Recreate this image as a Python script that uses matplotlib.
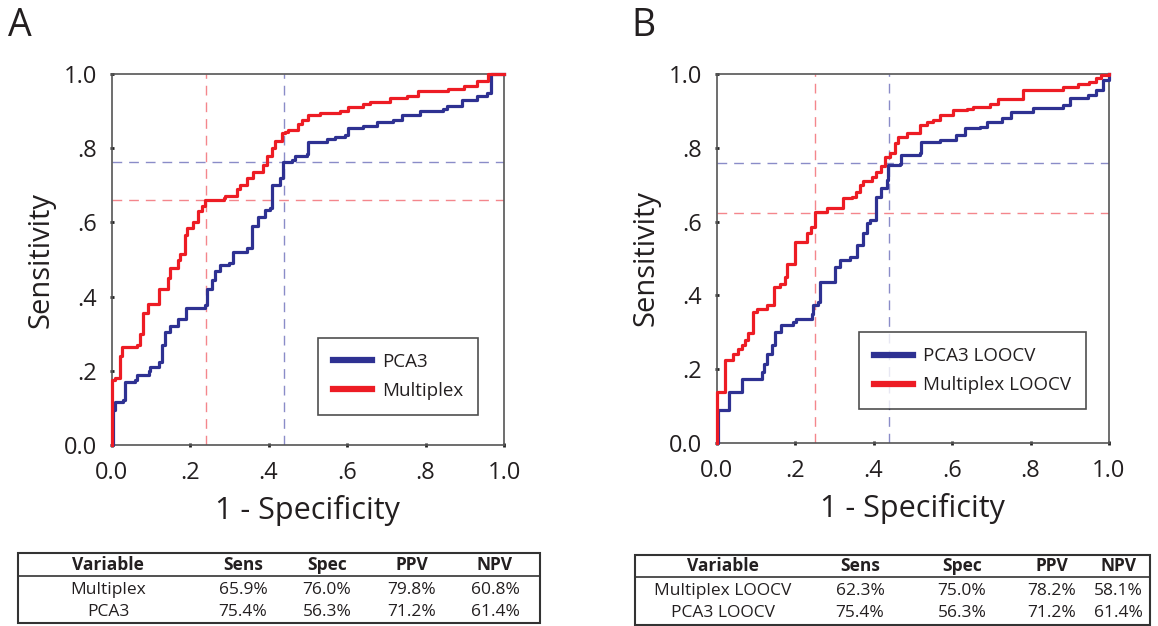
import matplotlib
matplotlib.use("Agg")
import matplotlib.pyplot as plt
from matplotlib.patches import Rectangle
from matplotlib.lines import Line2D

plt.rcParams['font.family'] = ['Open Sans', 'DejaVu Sans']

# ---------------- data ----------------
a_multi_fpr = [0, 0, 0.008, 0.02, 0.025, 0.064, 0.072, 0.08, 0.093, 0.12,
               0.144, 0.148, 0.17, 0.174, 0.187, 0.191, 0.208, 0.22, 0.23, 0.238,
               0.285, 0.29, 0.32, 0.327, 0.344, 0.361, 0.386, 0.395, 0.408, 0.416,
               0.433, 0.442, 0.45, 0.476, 0.484, 0.5, 0.531, 0.582, 0.603, 0.641,
               0.658, 0.709, 0.752, 0.782, 0.858, 0.897, 0.93, 0.96, 1.0]
a_multi_tpr = [0, 0.175, 0.18, 0.24, 0.265, 0.27, 0.30, 0.355, 0.38, 0.42,
               0.45, 0.476, 0.50, 0.515, 0.566, 0.584, 0.60, 0.63, 0.645, 0.66,
               0.665, 0.67, 0.69, 0.70, 0.72, 0.735, 0.755, 0.78, 0.80, 0.82,
               0.84, 0.845, 0.85, 0.865, 0.875, 0.89, 0.896, 0.90, 0.91, 0.92,
               0.925, 0.935, 0.94, 0.955, 0.96, 0.968, 0.98, 1.0, 1.0]
a_pca3_fpr = [0, 0.004, 0.008, 0.03, 0.034, 0.06, 0.064, 0.094, 0.098, 0.12,
              0.127, 0.136, 0.149, 0.17, 0.19, 0.238, 0.242, 0.255, 0.263, 0.276,
              0.30, 0.31, 0.344, 0.357, 0.374, 0.39, 0.404, 0.408, 0.43, 0.437,
              0.459, 0.467, 0.497, 0.50, 0.55, 0.568, 0.595, 0.603, 0.641, 0.675,
              0.718, 0.74, 0.786, 0.845, 0.854, 0.893, 0.93, 0.956, 0.966, 1.0]
a_pca3_tpr = [0, 0.094, 0.117, 0.12, 0.17, 0.175, 0.19, 0.20, 0.21, 0.225,
              0.27, 0.305, 0.32, 0.34, 0.37, 0.377, 0.42, 0.445, 0.47, 0.485,
              0.49, 0.52, 0.53, 0.59, 0.615, 0.633, 0.64, 0.70, 0.72, 0.764,
              0.768, 0.78, 0.785, 0.818, 0.825, 0.83, 0.836, 0.855, 0.86, 0.87,
              0.875, 0.89, 0.90, 0.905, 0.915, 0.93, 0.94, 0.95, 1.0, 1.0]

b_multi_fpr = [0, 0.002, 0.021, 0.042, 0.055, 0.064, 0.072, 0.08, 0.093, 0.102,
               0.127, 0.146, 0.161, 0.174, 0.178, 0.2, 0.23, 0.24, 0.25, 0.28,
               0.323, 0.344, 0.356, 0.365, 0.374, 0.395, 0.407, 0.42, 0.43, 0.441,
               0.454, 0.463, 0.484, 0.518, 0.535, 0.552, 0.569, 0.603, 0.637, 0.654,
               0.696, 0.717, 0.78, 0.883, 0.92, 0.95, 0.968, 0.98, 1.0]
b_multi_tpr = [0, 0.138, 0.224, 0.242, 0.255, 0.265, 0.28, 0.297, 0.355, 0.364,
               0.373, 0.423, 0.432, 0.45, 0.486, 0.545, 0.568, 0.586, 0.627, 0.636,
               0.663, 0.668, 0.68, 0.70, 0.71, 0.72, 0.735, 0.75, 0.776, 0.785,
               0.812, 0.83, 0.841, 0.862, 0.87, 0.875, 0.889, 0.902, 0.905, 0.911,
               0.92, 0.931, 0.957, 0.966, 0.972, 0.979, 0.988, 0.997, 1.0]
b_pca3_fpr = [0, 0.004, 0.032, 0.064, 0.115, 0.12, 0.127, 0.14, 0.149, 0.165,
              0.195, 0.203, 0.242, 0.246, 0.259, 0.263, 0.301, 0.314, 0.34, 0.357,
              0.373, 0.382, 0.39, 0.407, 0.42, 0.433, 0.437, 0.467, 0.471, 0.518,
              0.522, 0.569, 0.611, 0.632, 0.671, 0.688, 0.726, 0.751, 0.806, 0.883,
              0.9, 0.946, 0.968, 0.985, 1.0]
b_pca3_tpr = [0, 0.089, 0.138, 0.174, 0.193, 0.215, 0.242, 0.265, 0.301, 0.319,
              0.328, 0.337, 0.35, 0.373, 0.382, 0.437, 0.477, 0.495, 0.505, 0.536,
              0.568, 0.595, 0.604, 0.667, 0.69, 0.712, 0.753, 0.757, 0.78, 0.785,
              0.816, 0.821, 0.835, 0.853, 0.857, 0.871, 0.88, 0.898, 0.907, 0.916,
              0.934, 0.943, 0.957, 0.984, 1.0]

# operating-point cut-offs (1-spec, sens)
a_multi_cut = (0.24, 0.66)
a_pca3_cut = (0.44, 0.762)
b_multi_cut = (0.25, 0.624)
b_pca3_cut = (0.44, 0.758)

tick_vals = [0.0, 0.2, 0.4, 0.6, 0.8, 1.0]
tick_labels = ["0.0", ".2", ".4", ".6", ".8", "1.0"]

table_header = ["Variable", "Sens", "Spec", "PPV", "NPV"]
table_a_rows = [["Multiplex", "65.9%", "76.0%", "79.8%", "60.8%"],
                ["PCA3", "75.4%", "56.3%", "71.2%", "61.4%"]]
table_b_rows = [["Multiplex LOOCV", "62.3%", "75.0%", "78.2%", "58.1%"],
                ["PCA3 LOOCV", "75.4%", "56.3%", "71.2%", "61.4%"]]

# ---------------- styling ----------------
RED = "#ED1C24"
BLUE = "#2E3192"
RED_D = "#F4868C"
BLUE_D = "#8A8CC8"
SPINE = "#555555"
TXT = "#231F20"

W, H = 1158, 626
fig = plt.figure(figsize=(W / 100, H / 100), dpi=100)


def fx(px):
    return px / W


def fy(py):
    return 1 - py / H


def panel(rect, multi, pca3, mcut, pcut, labels, leg_anchor, letter, letter_xy):
    ax = fig.add_axes(rect)
    ax.set_xlim(0, 1)
    ax.set_ylim(0, 1)
    dash = (0, (7, 5))
    ax.axvline(mcut[0], color=RED_D, lw=1.0, ls=dash, zorder=1)
    ax.axhline(mcut[1], color=RED_D, lw=1.0, ls=dash, zorder=1)
    ax.axvline(pcut[0], color=BLUE_D, lw=1.0, ls=dash, zorder=1)
    ax.axhline(pcut[1], color=BLUE_D, lw=1.0, ls=dash, zorder=1)
    ax.step(pca3[0], pca3[1], where='post', color=BLUE, lw=2.3,
            label=labels[0], clip_on=False, zorder=3)
    ax.step(multi[0], multi[1], where='post', color=RED, lw=2.3,
            label=labels[1], clip_on=False, zorder=3)
    for s in ax.spines.values():
        s.set_color(SPINE)
        s.set_linewidth(1.2)
    ax.set_xticks(tick_vals)
    ax.set_xticklabels(tick_labels)
    ax.set_yticks(tick_vals)
    ax.set_yticklabels(tick_labels)
    ax.tick_params(direction='inout', length=3, width=2, color='#222222',
                   labelsize=17, labelcolor=TXT)
    ax.tick_params(axis='x', pad=10)
    ax.tick_params(axis='y', pad=9)
    ax.set_xlabel("1 - Specificity", fontsize=22, color=TXT, labelpad=7)
    ax.set_ylabel("Sensitivity", fontsize=21, color=TXT, labelpad=6)
    leg = ax.legend(loc='lower left', bbox_to_anchor=leg_anchor, fontsize=13.5,
                    frameon=True, fancybox=False, handlelength=2.1,
                    borderpad=0.8, labelspacing=0.6, handletextpad=0.5,
                    borderaxespad=0)
    leg.get_frame().set_edgecolor('#222222')
    leg.get_frame().set_linewidth(1.2)
    for line in leg.get_lines():
        line.set_linewidth(4.5)
    for t in leg.get_texts():
        t.set_color(TXT)
    fig.text(fx(letter_xy[0]), fy(letter_xy[1]), letter, fontsize=27,
             color=TXT, ha='left', va='center')
    return ax


panel([fx(111.7), fy(445), fx(504) - fx(111.7), fy(74) - fy(445)],
      (a_multi_fpr, a_multi_tpr), (a_pca3_fpr, a_pca3_tpr),
      a_multi_cut, a_pca3_cut, ["PCA3", "Multiplex"], (0.526, 0.081),
      "A", (8, 26))
panel([fx(716.7), fy(443), fx(1109) - fx(716.7), fy(74) - fy(443)],
      (b_multi_fpr, b_multi_tpr), (b_pca3_fpr, b_pca3_tpr),
      b_multi_cut, b_pca3_cut, ["PCA3 LOOCV", "Multiplex LOOCV"], (0.363, 0.091),
      "B", (631, 26))


def table(x0, x1, y0, yline, y1, col_x, row_y, rows):
    fig.add_artist(Rectangle((fx(x0), fy(y1)), fx(x1) - fx(x0), fy(y0) - fy(y1),
                             transform=fig.transFigure, fill=False,
                             edgecolor='#333333', lw=1.5))
    fig.add_artist(Line2D([fx(x0), fx(x1)], [fy(yline), fy(yline)],
                          transform=fig.transFigure, color='#333333', lw=1.2))
    for cx, h in zip(col_x, table_header):
        fig.text(fx(cx), fy(row_y[0]), h, ha='center', va='center',
                 fontsize=12.5, fontweight='bold', color=TXT)
    for r, ry in zip(rows, row_y[1:]):
        for cx, v in zip(col_x, r):
            fig.text(fx(cx), fy(ry), v, ha='center', va='center',
                     fontsize=12.5, color=TXT)


table(18, 540, 553, 576, 623, [108, 243, 327, 412, 495], [565, 590, 612], table_a_rows)
table(635, 1150, 555, 577, 625, [723, 860, 962, 1052, 1118], [566, 591, 613], table_b_rows)

fig.savefig("out.png", dpi=100)
